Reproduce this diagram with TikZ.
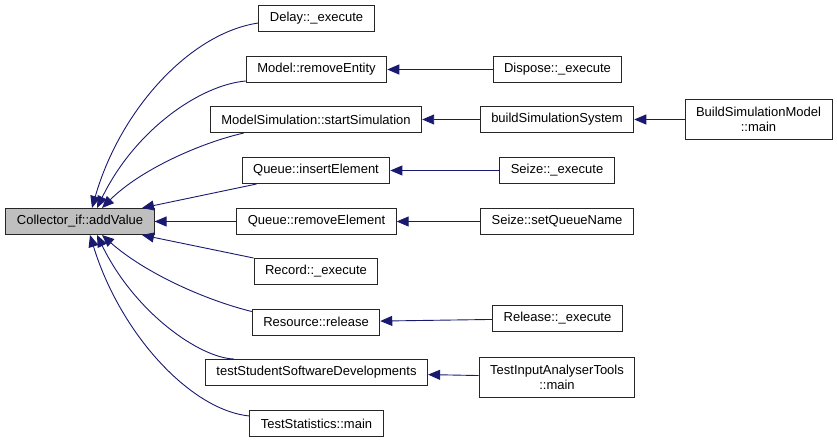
\documentclass[tikz,border=0pt]{standalone}
\usepackage{fontspec}
\setmainfont{Liberation Sans}
\usepackage{tikz}
\usetikzlibrary{arrows.meta}
\definecolor{edgeblue}{HTML}{191970}

\begin{document}
\begin{tikzpicture}[x=1pt, y=-1pt,
    box/.style={draw=black!85, line width=1pt, fill=white, minimum height=26pt, inner xsep=11pt, inner ysep=2pt, align=center, font=\fontsize{13}{15}\selectfont},
    arr/.style={-{Triangle[length=12pt,width=10pt]}, draw=edgeblue, line width=0.9pt}
]
\useasboundingbox (0,0) rectangle (837,443);
\node[box, fill=black!25] (addv) at (80,221.5) {Collector\_if::addValue};

\node[box] (delay) at (316.5,18.5) {Delay::\_execute};
\node[box] (rement) at (316.5,69.5) {Model::removeEntity};
\node[box] (startsim) at (316,119.5) {ModelSimulation::startSimulation};
\node[box] (insel) at (316,170.5) {Queue::insertElement};
\node[box] (remel) at (316.5,221.5) {Queue::removeElement};
\node[box] (record) at (316,271.5) {Record::\_execute};
\node[box] (release) at (316,322) {Resource::release};
\node[box] (tstud) at (316.5,372.5) {testStudentSoftwareDevelopments};
\node[box] (tstat) at (316.5,423.5) {TestStatistics::main};

\node[box] (dispose) at (557.5,69.5) {Dispose::\_execute};
\node[box] (bsys) at (557,119.5) {buildSimulationSystem};
\node[box, minimum height=40pt] (bmodel) at (758.5,119.5) {BuildSimulationModel\\::main};
\node[box] (seizex) at (557,170.5) {Seize::\_execute};
\node[box] (setq) at (557,221.5) {Seize::setQueueName};
\node[box] (relx) at (557.5,318.5) {Release::\_execute};
\node[box, minimum height=40pt] (tinput) at (557,377) {TestInputAnalyserTools\\::main};

% callers of addValue
\draw[arr] ([yshift=-4.5pt]delay.west) .. controls (190,33) and (120,110) .. ([xshift=12pt]addv.north);
\draw[arr] ([yshift=2pt]rement.south west) .. controls (200,85) and (135,130) .. ([xshift=17pt]addv.north);
\draw[arr] ([xshift=34pt]startsim.south west) .. controls (200,143) and (140,170) .. ([xshift=22pt]addv.north);
\draw[arr] ([xshift=15pt]insel.south west) -- ([xshift=62pt]addv.north);
\draw[arr] (remel) -- (addv);
\draw[arr] (record.north west) -- ([xshift=62pt]addv.south);
\draw[arr] ([yshift=-3pt]release.north west) .. controls (205,300) and (145,273) .. ([xshift=22pt]addv.south);
\draw[arr] ([xshift=29pt]tstud.north west) .. controls (200,358) and (135,313) .. ([xshift=17pt]addv.south);
\draw[arr] ([yshift=-6pt]tstat.north west) .. controls (190,410) and (120,333) .. ([xshift=10pt]addv.south);

% second level
\draw[arr] (dispose) -- (rement);
\draw[arr] (bsys) -- (startsim);
\draw[arr] (bmodel) -- (bsys);
\draw[arr] (seizex) -- (insel);
\draw[arr] (setq) -- (remel);
\draw[arr] (relx) -- (release);
\draw[arr] (tinput) -- (tstud);
\end{tikzpicture}
\end{document}
